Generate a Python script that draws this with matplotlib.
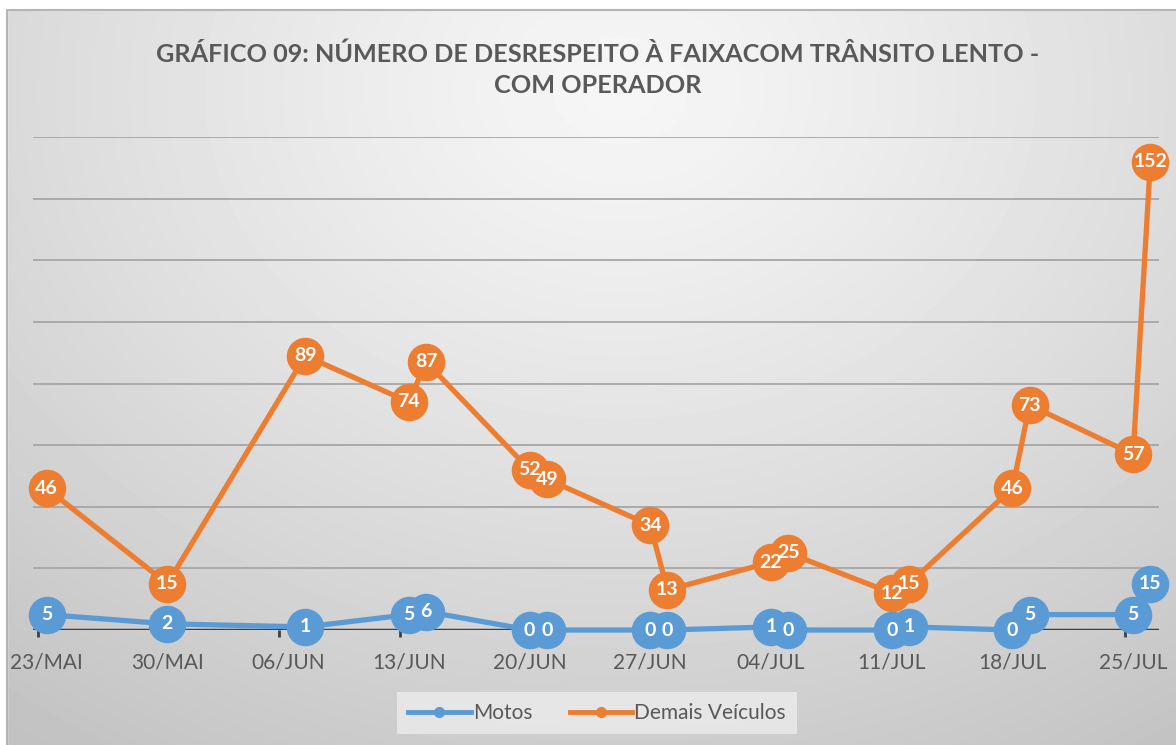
import matplotlib
matplotlib.use("Agg")
import matplotlib.pyplot as plt
from matplotlib.lines import Line2D
from matplotlib.patches import Rectangle
import numpy as np
import pandas as pd

# data
dates = ["2019-05-23", "2019-05-30", "2019-06-07", "2019-06-13", "2019-06-14",
         "2019-06-20", "2019-06-21", "2019-06-27", "2019-06-28", "2019-07-04",
         "2019-07-05", "2019-07-11", "2019-07-12", "2019-07-18", "2019-07-19",
         "2019-07-25", "2019-07-26"]
motos = [5, 2, 1, 5, 6, 0, 0, 0, 0, 1, 0, 0, 1, 0, 5, 5, 15]
demais = [46, 15, 89, 74, 87, 52, 49, 34, 13, 22, 25, 12, 15, 46, 73, 57, 152]
tick_dates = ["2019-05-23", "2019-05-30", "2019-06-06", "2019-06-13", "2019-06-20",
              "2019-06-27", "2019-07-04", "2019-07-11", "2019-07-18", "2019-07-25"]
tick_labels = ["23/MAI", "30/MAI", "06/JUN", "13/JUN", "20/JUN",
               "27/JUN", "04/JUL", "11/JUL", "18/JUL", "25/JUL"]
title = "GRÁFICO 09: NÚMERO DE DESRESPEITO À FAIXACOM TRÂNSITO LENTO -\nCOM OPERADOR"

blue = "#5b9bd5"
orange = "#ed7d31"
txtcol = "#595959"
plt.rcParams['font.family'] = ['Lato', 'DejaVu Sans']

W, H = 1176, 745
fig = plt.figure(figsize=(W / 100, H / 100), dpi=100)

# background with a soft radial gradient, like the excel chart area
bg = fig.add_axes([0, 0, 1, 1], zorder=-10)
bg.set_xlim(0, W)
bg.set_ylim(H, 0)
bg.axis("off")
yy, xx = np.mgrid[0:H, 0:W]
d = np.sqrt(((xx - 620) / 950.0) ** 2 + ((yy - 90) / 750.0) ** 2)
grey = np.clip(0.965 - 0.19 * d ** 1.2, 0.76, 1.0)
bg.imshow(grey, cmap="gray", vmin=0, vmax=1, extent=(0, W, H, 0), aspect="auto")
bg.add_patch(Rectangle((0, 0), W, 9, color="white", zorder=2))
bg.add_patch(Rectangle((0, 0), 7, H, color="white", zorder=2))
bg.plot([7, 7, W], [H, 10, 10], color="#b5b5b5", lw=1.5, zorder=3)

fig.text(598 / W, 1 - 70 / H, title, ha="center", va="center", fontsize=18.2,
         fontweight="bold", color=txtcol, linespacing=1.4)

x = pd.to_datetime(dates)
ax = fig.add_axes([33 / W, 115 / H, (1159 - 33) / W, (630 - 137) / H])
ax.patch.set_alpha(0)
for s in ax.spines.values():
    s.set_visible(False)

ax.set_ylim(0, 160)
for g in range(20, 161, 20):
    ax.axhline(g, color="#a6a6a6", lw=1.3, zorder=1)
ax.axhline(0, color="#404040", lw=2.5, zorder=1)

ax.plot(x, motos, color=blue, lw=3.8, marker="o", markersize=26, zorder=3, clip_on=False)
ax.plot(x, demais, color=orange, lw=3.8, marker="o", markersize=26, zorder=4, clip_on=False)
for xi, v in zip(x, motos):
    ax.text(xi, v, str(v), ha="center", va="center", color="white",
            fontsize=14, fontweight="bold", zorder=6)
for xi, v in zip(x, demais):
    ax.text(xi, v, str(v), ha="center", va="center", color="white",
            fontsize=14, fontweight="bold", zorder=6)

start = pd.Timestamp("2019-05-23")
ax.set_xlim(start - pd.Timedelta(hours=19), pd.Timestamp("2019-07-26") + pd.Timedelta(hours=12))
ax.set_xticks(pd.to_datetime(tick_dates))
ax.set_xticklabels(tick_labels)
ax.set_xticks(pd.to_datetime(tick_dates) - pd.Timedelta(hours=12), minor=True)
ax.tick_params(axis="x", which="major", length=0, pad=16, labelsize=15, labelcolor=txtcol)
ax.tick_params(axis="x", which="minor", length=5, width=2, color="#404040")
ax.set_yticks([])

handles = [Line2D([], [], color=blue, lw=3.5, marker="o", markersize=7),
           Line2D([], [], color=orange, lw=3.5, marker="o", markersize=7)]
leg = fig.legend(handles, ["Motos", "Demais Veículos"], loc="center",
                 bbox_to_anchor=(597 / W, 1 - 713 / H), ncol=2, fontsize=15,
                 frameon=True, handlelength=3.0, handletextpad=0.1, columnspacing=1.8,
                 borderpad=0.55, borderaxespad=0, fancybox=False)
leg.get_frame().set_facecolor("#ececec")
leg.get_frame().set_edgecolor("none")
leg.get_frame().set_alpha(0.8)
for t in leg.get_texts():
    t.set_color(txtcol)

fig.savefig("out.png", dpi=100)
